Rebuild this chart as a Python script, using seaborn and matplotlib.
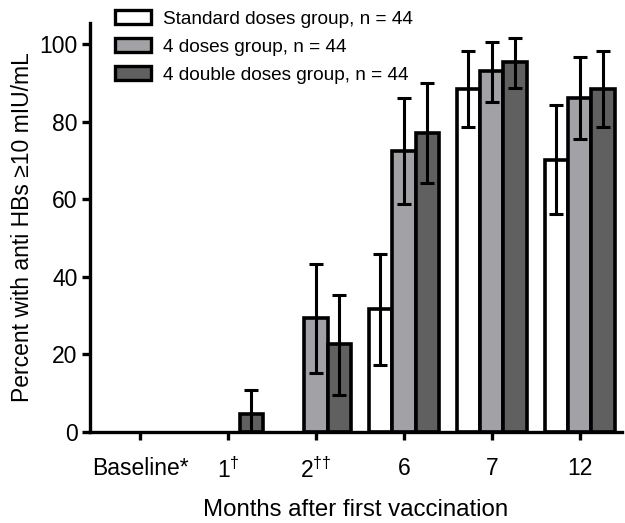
import matplotlib
matplotlib.use("Agg")
import matplotlib.pyplot as plt
import seaborn as sns
import pandas as pd
import numpy as np

months = ["Baseline*", "1$^{\u2020}$", "2$^{\u2020\u2020}$", "6", "7", "12"]
groups = ["Standard doses group, n = 44", "4 doses group, n = 44", "4 double doses group, n = 44"]

standard = [0, 0, 0, 31.6, 88.4, 70.1]
standard_lo = [0, 0, 0, 17.3, 78.6, 56.3]
standard_hi = [0, 0, 0, 45.8, 98.2, 84.2]

four = [0, 0, 29.5, 72.5, 93.0, 86.2]
four_lo = [0, 0, 15.3, 58.8, 85.1, 75.4]
four_hi = [0, 0, 43.4, 86.1, 100.6, 96.6]

double = [0, 4.6, 22.6, 77.1, 95.3, 88.4]
double_lo = [0, 0, 9.5, 64.2, 88.7, 78.6]
double_hi = [0, 10.7, 35.4, 89.9, 101.6, 98.1]

colors = ["#ffffff", "#a2a2a6", "#606060"]

sns.set_style("ticks")
plt.rcParams["font.family"] = ["Liberation Sans", "DejaVu Sans"]
plt.rcParams["mathtext.fontset"] = "custom"
plt.rcParams["mathtext.rm"] = "Liberation Sans"
plt.rcParams["mathtext.it"] = "Liberation Sans"
plt.rcParams["text.color"] = "black"
plt.rcParams["axes.labelcolor"] = "black"
plt.rcParams["xtick.color"] = "black"
plt.rcParams["ytick.color"] = "black"
plt.rcParams["axes.edgecolor"] = "black"

vals = [standard, four, double]
los = [standard_lo, four_lo, double_lo]
his = [standard_hi, four_hi, double_hi]

rows = []
for g, v in zip(groups, vals):
    for m, x in zip(months, v):
        rows.append({"month": m, "group": g, "value": x})
df = pd.DataFrame(rows)

fig = plt.figure(figsize=(6.25, 5.23), dpi=100)
ax = fig.add_axes([0.144, 0.174, 0.851, 0.782])

sns.barplot(data=df, x="month", y="value", hue="group", order=months, hue_order=groups,
            palette=colors, edgecolor="black", linewidth=2.6, errorbar=None, ax=ax,
            saturation=1, width=0.8)

for cont, lo, hi, v in zip(ax.containers, los, his, vals):
    for b, l, h, y in zip(cont, lo, hi, v):
        if y == 0:
            b.set_linewidth(0)
        if h == 0 and y == 0:
            continue
        x = b.get_x() + b.get_width() / 2
        ax.errorbar([x], [y], yerr=[[y - l], [h - y]], fmt="none", ecolor="black",
                    elinewidth=2.2, capsize=4.7, capthick=2.2, zorder=5)

ax.set_ylim(0, 105.4)
ax.set_xlim(-0.57, 5.48)
ax.set_yticks([0, 20, 40, 60, 80, 100])
sns.despine(ax=ax)
for s in ["left", "bottom"]:
    ax.spines[s].set_linewidth(2.4)
    ax.spines[s].set_zorder(6)
ax.tick_params(axis="both", width=2.4, length=6, labelsize=16.5, pad=3, color="black")
ax.tick_params(axis="x", pad=12)

ax.set_xlabel("Months after first vaccination", fontsize=17.3, labelpad=12)
ax.set_ylabel("Percent with anti HBs \u226510 mIU/mL", fontsize=16.5, labelpad=4)

handles, labels = ax.get_legend_handles_labels()
leg = ax.legend(handles, labels, loc="upper left", bbox_to_anchor=(0.172, 0.995),
                bbox_transform=fig.transFigure, frameon=False, fontsize=13.7,
                handlelength=1.9, handleheight=0.75, handletextpad=0.6, labelspacing=0.55,
                borderaxespad=0)
for h in leg.legend_handles:
    h.set_linewidth(2.4)
    h.set_edgecolor("black")

fig.savefig("out.png", dpi=100)
